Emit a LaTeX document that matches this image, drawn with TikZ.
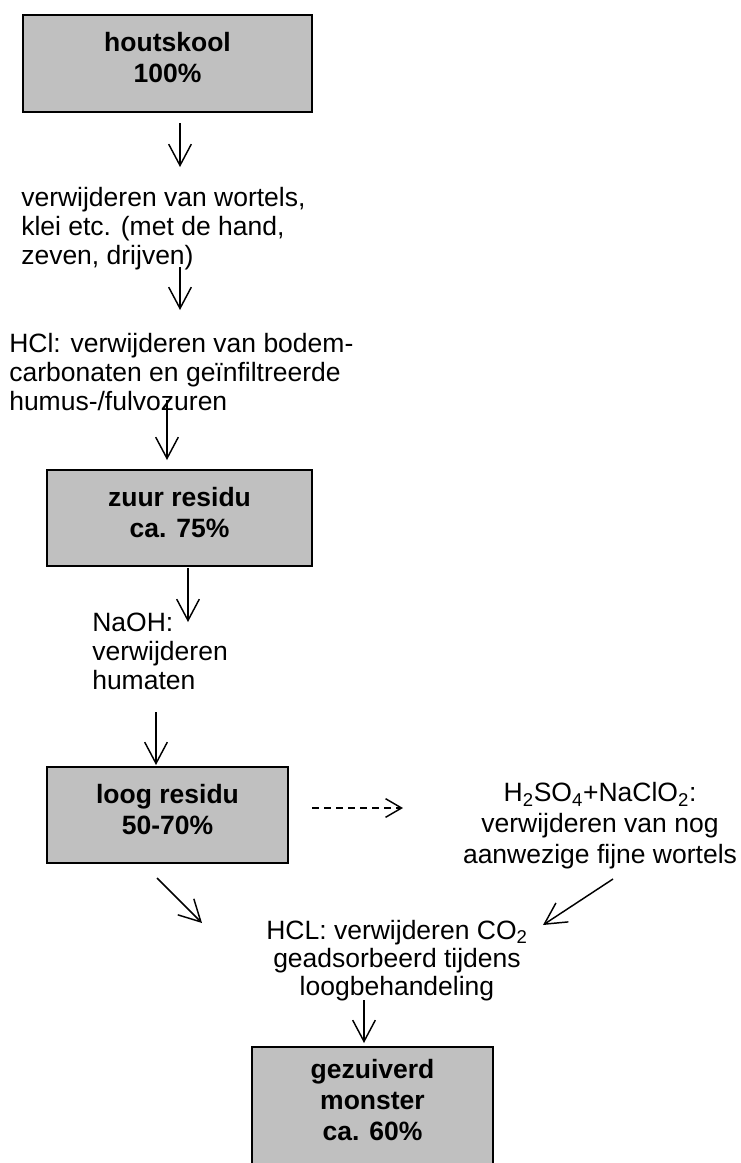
\documentclass[tikz,border=0pt]{standalone}
\usepackage{fontspec}
\setmainfont{Liberation Sans}
\usetikzlibrary{arrows.meta}
\definecolor{boxgray}{HTML}{C0C0C0}
\begin{document}
\begin{tikzpicture}[x=0.75pt,y=-0.75pt,
  every node/.style={inner sep=0pt, font=\fontsize{19.875pt}{21.75pt}\selectfont},
  box/.style={draw, line width=1.3pt, fill=boxgray, align=center,
    font=\fontsize{19.875pt}{23.25pt}\selectfont\bfseries,
    execute at end node={\rule[-9pt]{0pt}{0pt}}},
  lbl/.style={align=left},
  clbl/.style={align=center},
  flow/.style={line width=1.1pt, -{Straight Barb[length=16pt,width=17pt]}},
  dflow/.style={line width=1.1pt, dash pattern=on 5.5pt off 3.5pt,
    -{Straight Barb[length=12pt,width=14pt]}}
]
\path[use as bounding box] (0,0) rectangle (740,1163);
\clip (0,0) rectangle (740,1163);

% boxes
\node[box, minimum width=216.75pt, minimum height=72.75pt] (b1) at (167.5,63.5) {houtskool\\100\%};
\node[box, minimum width=198.75pt, minimum height=72pt] (b2) at (179.5,518) {zuur residu\\ca. 75\%};
\node[box, minimum width=180.75pt, minimum height=72pt] (b3) at (167.5,815) {loog residu\\50-70\%};
\node[box, minimum width=180.75pt, minimum height=88.5pt] (b4) at (372.5,1106) {gezuiverd\\monster\\ca. 60\%};

% text labels (anchored at the baseline of the last line)
\node[lbl, anchor=base west] (t1) at (21,264) {verwijderen van wortels,\\klei etc. (met de hand,\\zeven, drijven)};
\node[lbl, anchor=base west] (t2) at (9,410) {HCl: verwijderen van bodem-\\carbonaten en geïnfiltreerde\\humus-/fulvozuren};
\node[lbl, anchor=base west] (t3) at (92,689) {NaOH:\\verwijderen\\humaten};
\node[clbl, anchor=base, font=\fontsize{19.875pt}{22.9pt}\selectfont] (t4) at (600,863) {H\textsubscript{2}SO\textsubscript{4}+NaClO\textsubscript{2}:\\verwijderen van nog\\aanwezige fijne wortels};
\node[clbl, anchor=base, font=\fontsize{19.875pt}{21pt}\selectfont] (t5) at (397,995) {HCL: verwijderen CO\textsubscript{2}\\geadsorbeerd tijdens\\loogbehandeling};

% arrow end points
\coordinate (a1s) at (180,123);  \coordinate (a1e) at (180,167);
\coordinate (a2s) at (180,267);  \coordinate (a2e) at (180,310);
\coordinate (a3s) at (167,400);  \coordinate (a3e) at (167,460);
\coordinate (a4s) at (188,568);  \coordinate (a4e) at (188,622);
\coordinate (a5s) at (156,712);  \coordinate (a5e) at (156,765);
\coordinate (a6s) at (312,808);  \coordinate (a6e) at (403,808);
\coordinate (a7s) at (157,878);  \coordinate (a7e) at (202,923);
\coordinate (a8s) at (613,879);  \coordinate (a8e) at (543,925);
\coordinate (a9s) at (364,1000); \coordinate (a9e) at (364,1043);

\draw[flow] (a1s) -- (a1e);
\draw[flow] (a2s) -- (a2e);
\draw[flow] (a3s) -- (a3e);
\draw[flow] (a4s) -- (a4e);
\draw[flow] (a5s) -- (a5e);
\draw[dflow] (a6s) -- (a6e);
\draw[flow] (a7s) -- (a7e);
\draw[flow] (a8s) -- (a8e);
\draw[flow] (a9s) -- (a9e);
\end{tikzpicture}
\end{document}
